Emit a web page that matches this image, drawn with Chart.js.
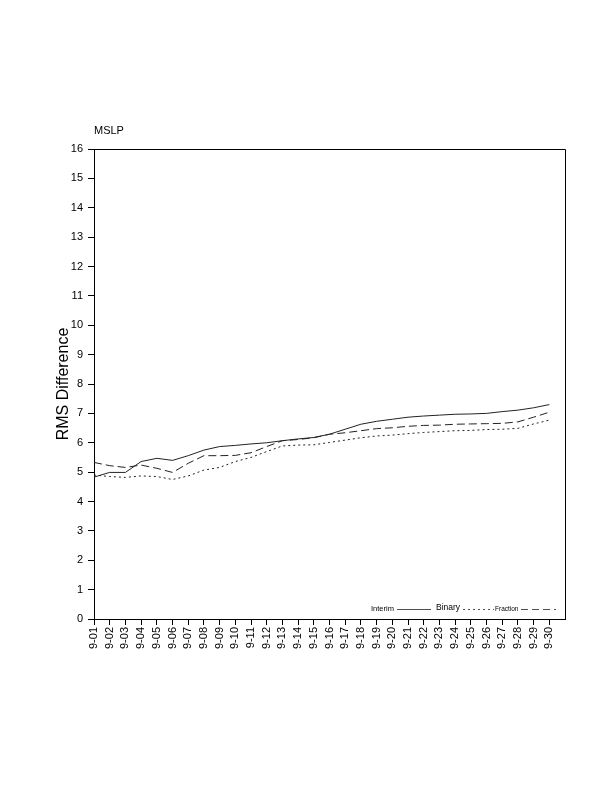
<!DOCTYPE html>
<html>
<head>
<meta charset="utf-8">
<script src="https://cdn.jsdelivr.net/npm/chart.js@4/dist/chart.umd.min.js"></script>
<style>
html,body{margin:0;padding:0;background:#fff;}
#wrap{width:612px;height:792px;}
</style>
</head>
<body>
<div id="wrap"><canvas id="c" width="612" height="792"></canvas></div>
<script>
const categories = ["9-01","9-02","9-03","9-04","9-05","9-06","9-07","9-08","9-09","9-10",
  "9-11","9-12","9-13","9-14","9-15","9-16","9-17","9-18","9-19","9-20",
  "9-21","9-22","9-23","9-24","9-25","9-26","9-27","9-28","9-29","9-30"];
const interim  = [4.83,4.99,4.99,5.36,5.47,5.40,5.56,5.75,5.87,5.91,5.96,6.00,6.07,6.13,6.18,6.29,6.46,6.63,6.73,6.80,6.87,6.91,6.94,6.97,6.98,7.00,7.06,7.11,7.19,7.30];
const binary   = [4.90,4.85,4.82,4.87,4.85,4.75,4.87,5.07,5.16,5.36,5.50,5.70,5.89,5.92,5.93,6.01,6.09,6.17,6.23,6.26,6.31,6.35,6.38,6.41,6.42,6.45,6.46,6.49,6.64,6.77];
const fraction = [5.33,5.22,5.16,5.24,5.13,4.99,5.30,5.56,5.56,5.57,5.66,5.87,6.07,6.11,6.17,6.29,6.34,6.41,6.48,6.51,6.56,6.59,6.60,6.63,6.64,6.65,6.66,6.71,6.87,7.04];
const yTicks = [0,1,2,3,4,5,6,7,8,9,10,11,12,13,14,15,16];

const FONT = "'Liberation Sans', Arial, Helvetica, sans-serif";
const toPts = arr => arr.map((v,i)=>({x:i+1,y:v}));

const frame = {
  id:'frame',
  afterDraw(chart){
    const {ctx, chartArea:a} = chart;
    ctx.save();
    ctx.strokeStyle='#000'; ctx.lineWidth=1;
    ctx.beginPath();
    ctx.moveTo(a.left, a.top+0.5); ctx.lineTo(a.right+0.5, a.top+0.5); ctx.lineTo(a.right+0.5, a.bottom);
    ctx.stroke();
    // title
    ctx.fillStyle='#000';
    ctx.font="11px "+FONT; ctx.textBaseline='alphabetic'; ctx.textAlign='left';
    ctx.fillText('MSLP', 94, 134);
    // y axis title
    ctx.save();
    ctx.translate(68, 384); ctx.rotate(-Math.PI/2);
    ctx.font="16px "+FONT; ctx.textAlign='center';
    ctx.fillText('RMS Difference', 0, 0);
    ctx.restore();
    // legend
    const ly = 609;
    ctx.textBaseline='middle';
    ctx.font="7.5px "+FONT; ctx.fillText('Interim', 371, ly);
    ctx.font="8.5px "+FONT; ctx.fillText('Binary', 436, ly-1);
    ctx.font="6.5px "+FONT; ctx.fillText('Fraction', 495, ly);
    ctx.lineWidth=0.8; ctx.strokeStyle='#222';
    const seg=(x1,x2,d)=>{ctx.setLineDash(d);ctx.beginPath();ctx.moveTo(x1,ly+0.5);ctx.lineTo(x2,ly+0.5);ctx.stroke();};
    seg(397,431,[]);
    seg(463,494,[2,3]);
    seg(521,556,[7,4]);
    ctx.restore();
  }
};

new Chart(document.getElementById('c'), {
  type:'line',
  data:{
    datasets:[
      {label:'Interim', data:toPts(interim), borderColor:'#222', borderWidth:1, pointRadius:0, tension:0, fill:false},
      {label:'Binary', data:toPts(binary), borderColor:'#222', borderWidth:1, borderDash:[2,3], pointRadius:0, tension:0, fill:false},
      {label:'Fraction', data:toPts(fraction), borderColor:'#222', borderWidth:1, borderDash:[8,4], pointRadius:0, tension:0, fill:false}
    ]
  },
  options:{
    responsive:false, animation:false, devicePixelRatio:1,
    layout:{padding:{left:0,right:47,top:149,bottom:0}},
    plugins:{legend:{display:false}, tooltip:{enabled:false}},
    scales:{
      x:{
        type:'linear', min:1, max:31,
        afterBuildTicks(s){ s.ticks = categories.map((c,i)=>({value:i+1})); },
        afterFit(s){ s.height = 173; },
        ticks:{ autoSkip:false, minRotation:90, maxRotation:90, padding:2, color:'#000',
          font:{family:FONT, size:11},
          callback:(v)=>categories[v-1] ?? '' },
        grid:{ drawOnChartArea:false, tickLength:6, color:'#000', lineWidth:1 },
        border:{ display:true, color:'#000', width:1 }
      },
      y:{
        min:0, max:16,
        afterBuildTicks(s){ s.ticks = yTicks.map(v=>({value:v})); },
        afterFit(s){ s.width = 94; },
        ticks:{ color:'#000', padding:5, font:{family:FONT, size:11} },
        grid:{ drawOnChartArea:false, tickLength:6, color:'#000', lineWidth:1 },
        border:{ display:true, color:'#000', width:1 }
      }
    }
  },
  plugins:[frame]
});
</script>
</body>
</html>
